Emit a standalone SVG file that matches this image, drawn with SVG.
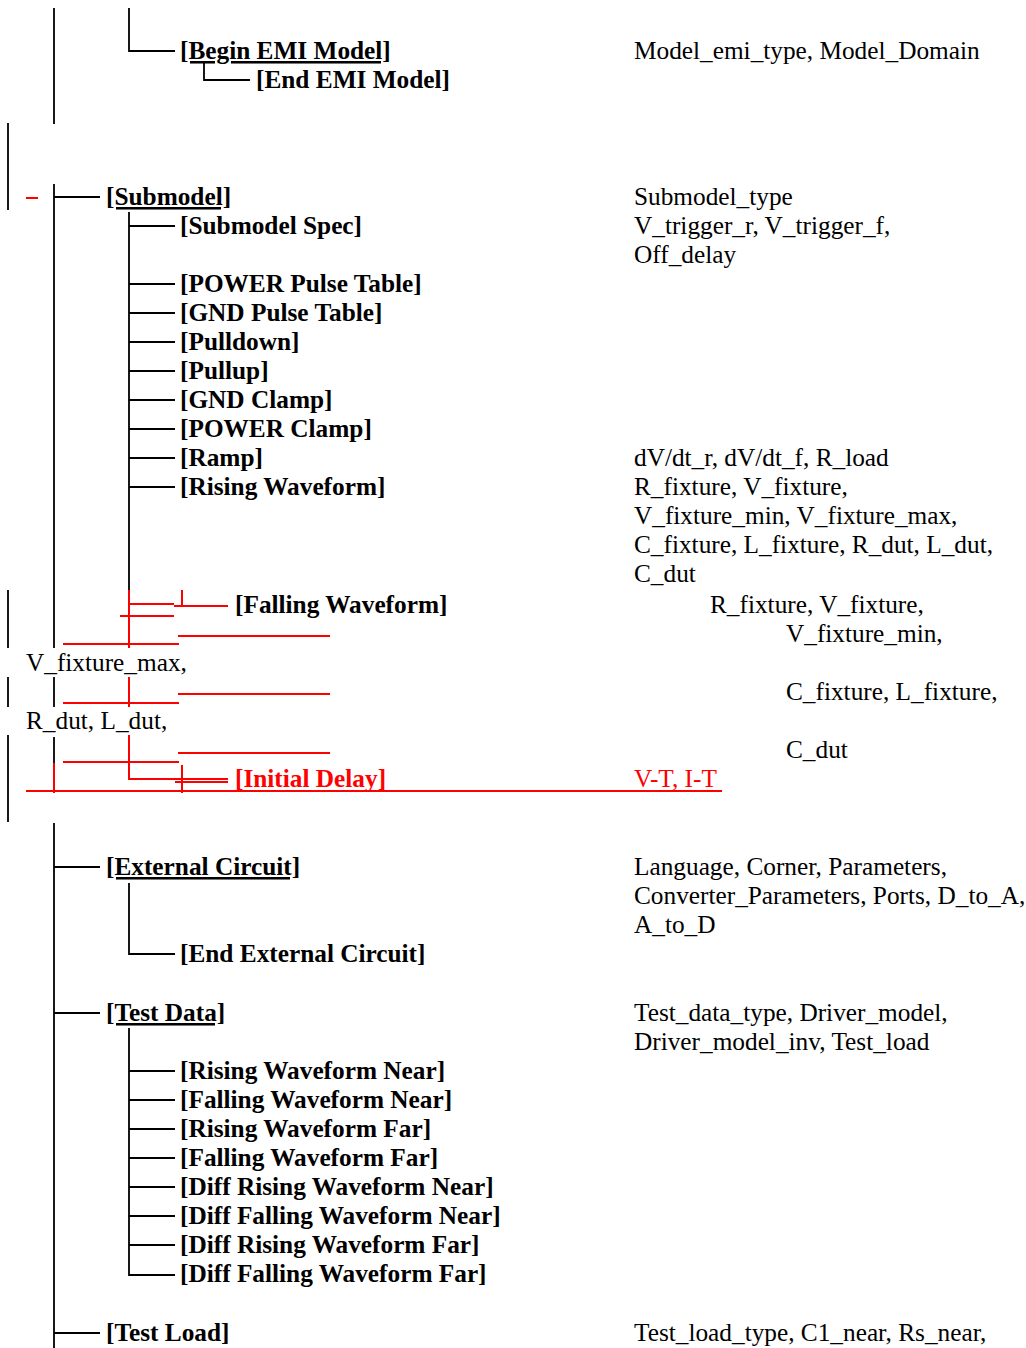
<svg xmlns="http://www.w3.org/2000/svg" width="1026" height="1348" viewBox="0 0 1026 1348">
<style>
text{font-family:"Liberation Serif","Times New Roman",serif;font-size:25.3px;fill:#000}
.b{font-weight:bold}
.u{text-decoration:underline;text-decoration-skip-ink:none;text-decoration-thickness:2px}
.r{fill:#f00}
.k{stroke:#000;stroke-width:1.8;fill:none}
.rd{stroke:#f00;stroke-width:2;fill:none}
</style>
<rect width="1026" height="1348" fill="#fff"/>
<g id="connectors">
<path class="k" d="M54 8V124M129 8V51H175M204 63V80H250M54 184V648M54 197H100M129 212V590M129 226H175M129 284H175M129 313H175M129 342H175M129 371H175M129 400H175M129 429H175M129 458H175M129 487H175M54 677V707M54 737V763M54 823V1348M54 867H100M54 1013H100M54 1333H100M129 883V954H175M129 1028V1275H175M129 1071H175M129 1100H175M129 1129H175M129 1158H175M129 1187H175M129 1216H175M129 1245H175"/>
<path class="k" stroke-width="2" d="M8 123V210M8 590V648M8 677V707M8 735V822"/>
<path class="rd" d="M26 198H38M129 590V648M129 604H174M182 590V606M120 616H174M178 636H330M63 644H179M129 677V707M178 694H330M63 703H179M178 753H330M63 762H179M129 735V779H175M182 765V793M175 779H228M175 782H228M26 791H722M54 763V793"/>
<path class="rd" stroke-width="3" d="M174 606H228"/>
</g>
<g id="begin-emi"><text class="b u" x="180" y="59">[Begin EMI Model]</text><text x="634" y="59">Model_emi_type, Model_Domain</text></g>
<g id="end-emi"><text class="b" x="256" y="88">[End EMI Model]</text></g>
<g id="submodel"><text class="b u" x="106" y="205">[Submodel]</text><text x="634" y="205">Submodel_type</text></g>
<g id="submodel-spec"><text class="b" x="180" y="234">[Submodel Spec]</text><text x="634" y="234">V_trigger_r, V_trigger_f,</text><text x="634" y="263">Off_delay</text></g>
<g id="power-pulse"><text class="b" x="180" y="292">[POWER Pulse Table]</text></g>
<g id="gnd-pulse"><text class="b" x="180" y="321">[GND Pulse Table]</text></g>
<g id="pulldown"><text class="b" x="180" y="350">[Pulldown]</text></g>
<g id="pullup"><text class="b" x="180" y="379">[Pullup]</text></g>
<g id="gnd-clamp"><text class="b" x="180" y="408">[GND Clamp]</text></g>
<g id="power-clamp"><text class="b" x="180" y="437">[POWER Clamp]</text></g>
<g id="ramp"><text class="b" x="180" y="466">[Ramp]</text><text x="634" y="466">dV/dt_r, dV/dt_f, R_load</text></g>
<g id="rising-wf"><text class="b" x="180" y="495">[Rising Waveform]</text><text x="634" y="495">R_fixture, V_fixture,</text><text x="634" y="524">V_fixture_min, V_fixture_max,</text><text x="634" y="553">C_fixture, L_fixture, R_dut, L_dut,</text><text x="634" y="582">C_dut</text></g>
<g id="falling-wf"><text class="b" x="235" y="613">[Falling Waveform]</text><text x="710" y="613">R_fixture, V_fixture,</text><text x="786" y="642">V_fixture_min,</text><text x="26" y="671">V_fixture_max,</text><text x="786" y="700">C_fixture, L_fixture,</text><text x="26" y="729">R_dut, L_dut,</text><text x="786" y="758">C_dut</text></g>
<g id="initial-delay"><text class="b r" x="235" y="787">[Initial Delay]</text><text class="r" x="634" y="787">V-T, I-T</text></g>
<g id="external-circuit"><text class="b u" x="106" y="875">[External Circuit]</text><text x="634" y="875">Language, Corner, Parameters,</text><text x="634" y="904">Converter_Parameters, Ports, D_to_A,</text><text x="634" y="933">A_to_D</text></g>
<g id="end-external-circuit"><text class="b" x="180" y="962">[End External Circuit]</text></g>
<g id="test-data"><text class="b u" x="106" y="1021">[Test Data]</text><text x="634" y="1021">Test_data_type, Driver_model,</text><text x="634" y="1050">Driver_model_inv, Test_load</text></g>
<g id="rwn"><text class="b" x="180" y="1079">[Rising Waveform Near]</text></g>
<g id="fwn"><text class="b" x="180" y="1108">[Falling Waveform Near]</text></g>
<g id="rwf"><text class="b" x="180" y="1137">[Rising Waveform Far]</text></g>
<g id="fwf"><text class="b" x="180" y="1166">[Falling Waveform Far]</text></g>
<g id="drwn"><text class="b" x="180" y="1195">[Diff Rising Waveform Near]</text></g>
<g id="dfwn"><text class="b" x="180" y="1224">[Diff Falling Waveform Near]</text></g>
<g id="drwf"><text class="b" x="180" y="1253">[Diff Rising Waveform Far]</text></g>
<g id="dfwf"><text class="b" x="180" y="1282">[Diff Falling Waveform Far]</text></g>
<g id="test-load"><text class="b" x="106" y="1341">[Test Load]</text><text x="634" y="1341">Test_load_type, C1_near, Rs_near,</text></g>
</svg>
